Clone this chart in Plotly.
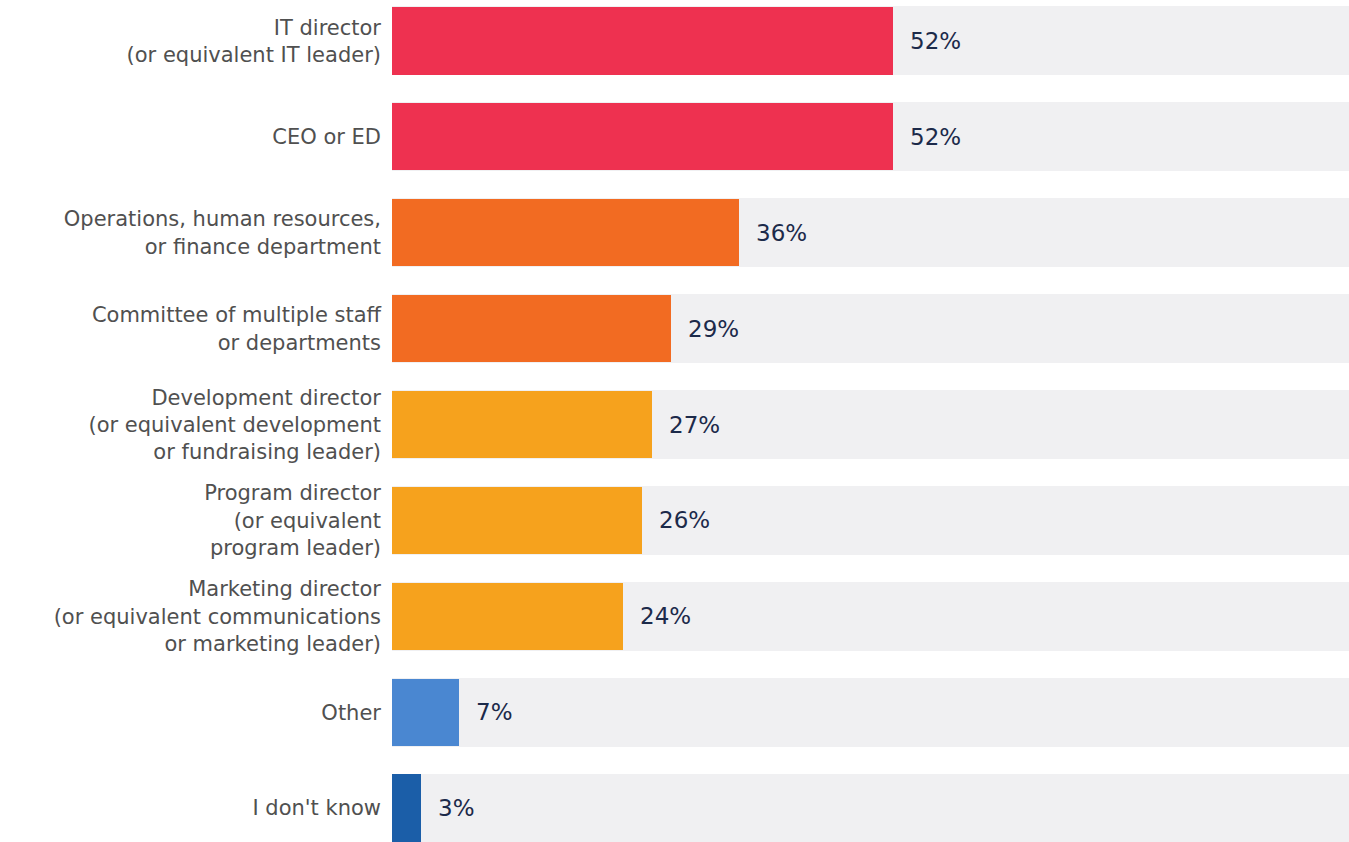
import plotly.graph_objects as go

categories = [
    "IT director<br>(or equivalent IT leader)",
    "CEO or ED",
    "Operations, human resources,<br>or finance department",
    "Committee of multiple staff<br>or departments",
    "Development director<br>(or equivalent development<br>or fundraising leader)",
    "Program director<br>(or equivalent<br>program leader)",
    "Marketing director<br>(or equivalent communications<br>or marketing leader)",
    "Other",
    "I don't know",
]
values = [52, 52, 36, 29, 27, 26, 24, 7, 3]
colors = ["#ee3150", "#ee3150", "#f26b22", "#f26b22", "#f6a21d", "#f6a21d",
          "#f6a21d", "#4a87d1", "#1b5ea8"]

pos = list(range(len(categories)))

fig = go.Figure()

# full-length grey tracks behind each bar
fig.add_trace(go.Bar(
    x=[100] * len(pos), y=pos, orientation="h", width=0.72,
    marker=dict(color="#f0f0f2", line=dict(width=0)),
    hoverinfo="skip", showlegend=False,
))

fig.add_trace(go.Bar(
    x=values, y=pos, orientation="h", width=0.70,
    marker=dict(color=colors, line=dict(width=0)),
    showlegend=False,
))

for p, v in zip(pos, values):
    fig.add_annotation(
        x=v, y=p, text=f"{v}%", showarrow=False,
        xanchor="left", yanchor="middle", xshift=15,
        font=dict(family="DejaVu Sans", size=23, color="#1c2a4a"),
    )

fig.update_layout(
    width=1349, height=842,
    margin=dict(l=392, r=0, t=0, b=0),
    paper_bgcolor="white", plot_bgcolor="white",
    barmode="overlay", bargap=0,
    xaxis=dict(range=[0, 99.4], visible=False, fixedrange=True),
    yaxis=dict(
        range=[8.354, -0.427],
        tickmode="array", tickvals=pos, ticktext=categories,
        showgrid=False, zeroline=False, showline=False,
        ticks="", ticklabelstandoff=10,
        tickfont=dict(family="DejaVu Sans", size=21, color="#505050"),
    ),
)

fig.write_html("out.html")
